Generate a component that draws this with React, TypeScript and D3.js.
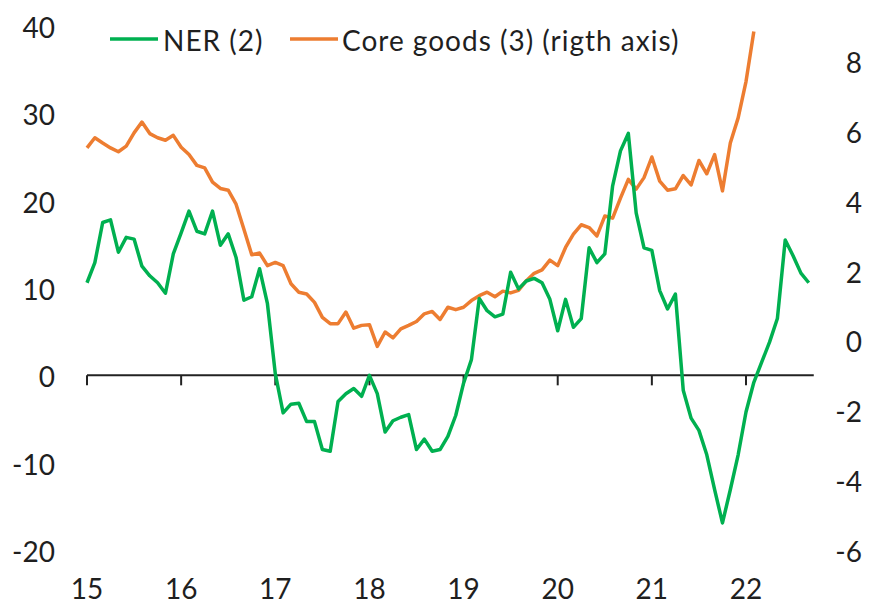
import React from "react";
import * as d3 from "d3";

const startYear = 2015;
const yearTicks = [2015, 2016, 2017, 2018, 2019, 2020, 2021, 2022];
const yearLabels = ["15", "16", "17", "18", "19", "20", "21", "22"];
const leftTicks = [-20, -10, 0, 10, 20, 30, 40];
const rightTicks = [-6, -4, -2, 0, 2, 4, 6, 8];

// NER (2), monthly from Jan 2015, left axis
const ner = [
  10.6, 12.9, 17.5, 17.8, 14.1, 15.8, 15.6, 12.5, 11.4, 10.6, 9.4, 13.9,
  16.3, 18.8, 16.5, 16.2, 18.8, 14.9, 16.2, 13.5, 8.6, 9.0, 12.2, 8.2,
  0.2, -4.3, -3.3, -3.2, -5.3, -5.3, -8.5, -8.7, -3.0, -2.1, -1.5, -2.4,
  0.0, -2.1, -6.5, -5.2, -4.8, -4.5, -8.5, -7.3, -8.7, -8.5, -7.0, -4.6,
  -0.9, 1.8, 8.8, 7.4, 6.7, 7.0, 11.8, 9.9, 10.8, 11.1, 10.6, 8.7,
  5.1, 8.7, 5.5, 6.5, 14.6, 12.9, 13.9, 21.7, 25.7, 27.7, 18.6, 14.6,
  14.3, 9.7, 7.6, 9.3, -1.7, -4.9, -6.3, -9.1, -13.1, -16.9, -13.1, -9.1,
  -4.2, -0.8, 1.5, 3.8, 6.5, 15.5, 13.7, 11.7, 10.6,
];

// Core goods (3), monthly from Jan 2015, right axis
const coreGoods = [
  5.51, 5.8, 5.65, 5.51, 5.4, 5.56, 5.94, 6.25, 5.92, 5.8, 5.73, 5.87,
  5.53, 5.32, 5.01, 4.94, 4.53, 4.35, 4.3, 3.9, 3.18, 2.45, 2.5, 2.14,
  2.23, 2.14, 1.62, 1.38, 1.33, 1.09, 0.66, 0.48, 0.48, 0.81, 0.35, 0.43,
  0.45, -0.17, 0.24, 0.07, 0.33, 0.43, 0.54, 0.76, 0.83, 0.6, 0.95, 0.88,
  0.95, 1.14, 1.28, 1.38, 1.25, 1.41, 1.36, 1.43, 1.71, 1.92, 2.02, 2.3,
  2.14, 2.66, 3.04, 3.31, 3.23, 2.99, 3.56, 3.5, 4.07, 4.61, 4.33, 4.66,
  5.25, 4.56, 4.3, 4.34, 4.72, 4.45, 5.15, 4.77, 5.32, 4.28, 5.65, 6.37,
  7.41, 8.84,
];

const legendLabels = ["NER (2)", "Core goods (3) (rigth axis)"];

const W = 876;
const H = 605;
const GREEN = "#00B050";
const ORANGE = "#ED7D31";
const FONT = "Lato, 'Open Sans', sans-serif";
const FS = 28;
const TEXT = "#1f1f1f";

export default function App() {
  const x = d3.scaleLinear().domain([2015, 2022]).range([87, 746]);
  const yL = d3.scaleLinear().domain([-20, 40]).range([550, 26]);
  const yR = d3.scaleLinear().domain([-6, 9]).range([550, 26]);
  const t = (i: number) => startYear + i / 12;

  const lineL = d3
    .line<number>()
    .x((_, i) => x(t(i)))
    .y((d) => yL(d));
  const lineR = d3
    .line<number>()
    .x((_, i) => x(t(i)))
    .y((d) => yR(d));

  const axisY = yL(0);
  const axisEnd = x(t(ner.length - 1)) + 5;

  return (
    <svg
      width={W}
      height={H}
      style={{ position: "absolute", left: 0, top: 0, background: "#fff" }}
      fontFamily={FONT}
    >
      <rect width={W} height={H} fill="#fff" />
      {leftTicks.map((v) => (
        <text
          key={"l" + v}
          x={55}
          y={yL(v) + 1}
          textAnchor="end"
          dominantBaseline="central"
          fontSize={FS}
          fill={TEXT}
        >
          {v}
        </text>
      ))}
      {rightTicks.map((v) => (
        <text
          key={"r" + v}
          x={862}
          y={yR(v) + 1}
          textAnchor="end"
          dominantBaseline="central"
          fontSize={FS}
          fill={TEXT}
        >
          {v}
        </text>
      ))}
      {yearTicks.map((yr, i) => (
        <text
          key={"x" + yr}
          x={x(yr)}
          y={588}
          textAnchor="middle"
          dominantBaseline="central"
          fontSize={FS}
          fill={TEXT}
        >
          {yearLabels[i]}
        </text>
      ))}
      <line x1={x(2015)} x2={axisEnd} y1={axisY} y2={axisY} stroke="#222" strokeWidth={2} />
      {yearTicks.map((yr) => (
        <line
          key={"t" + yr}
          x1={x(yr)}
          x2={x(yr)}
          y1={axisY}
          y2={axisY + 10}
          stroke="#222"
          strokeWidth={2}
        />
      ))}
      <path d={lineR(coreGoods) || ""} fill="none" stroke={ORANGE} strokeWidth={3.5} strokeLinejoin="round" />
      <path d={lineL(ner) || ""} fill="none" stroke={GREEN} strokeWidth={3.5} strokeLinejoin="round" />
      <line x1={110} x2={158} y1={39} y2={39} stroke={GREEN} strokeWidth={3.5} />
      <text x={163} y={40} dominantBaseline="central" fontSize={FS} letterSpacing={1} fill={TEXT}>
        {legendLabels[0]}
      </text>
      <line x1={290} x2={338} y1={39} y2={39} stroke={ORANGE} strokeWidth={3.5} />
      <text x={342} y={40} dominantBaseline="central" fontSize={FS} letterSpacing={1} fill={TEXT}>
        {legendLabels[1]}
      </text>
    </svg>
  );
}
